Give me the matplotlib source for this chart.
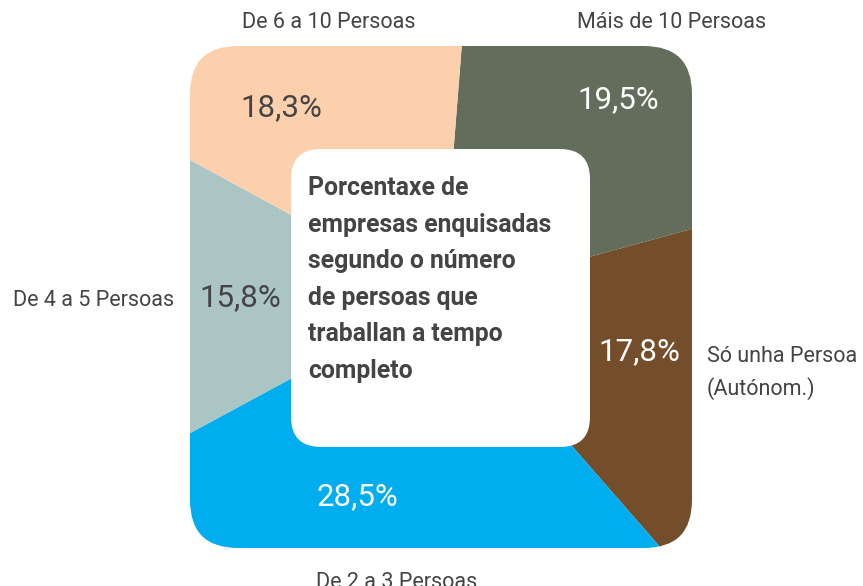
import matplotlib.pyplot as plt
from matplotlib.patches import FancyBboxPatch

plt.rcParams['font.family'] = ['Roboto', 'DejaVu Sans']

# slices, clockwise from the top
categories = ["Máis de 10 Persoas", "Só unha Persoa\n(Autónom.)", "De 2 a 3 Persoas",
              "De 4 a 5 Persoas", "De 6 a 10 Persoas"]
values = [19.5, 17.8, 28.5, 15.8, 18.3]
pct_labels = ["19,5%", "17,8%", "28,5%", "15,8%", "18,3%"]
colors = ["#626D5B", "#744E2B", "#00AEEF", "#ABC4C4", "#FDD0AD"]
pct_colors = ["white", "white", "white", "#444444", "#444444"]
title = "Porcentaxe de\nempresas enquisadas\nsegundo o número\nde persoas que\ntraballan a tempo\ncompleto"

W, H = 863, 586
fig = plt.figure(figsize=(W / 100, H / 100), dpi=100)
ax = fig.add_axes([0, 0, 1, 1])

cx, cy = 442, H - 297
wedges, _ = ax.pie(values, colors=colors, startangle=85.5, counterclock=False,
                   center=(cx, cy), radius=420, wedgeprops=dict(linewidth=0))

# rounded square that clips the pie
square = FancyBboxPatch((190, H - 548), 502, 502,
                        boxstyle="round,pad=0,rounding_size=48",
                        facecolor="none", edgecolor="none")
ax.add_patch(square)
for w in wedges:
    w.set_clip_on(True)
    w.set_clip_path(square)

# white box in the middle
box = FancyBboxPatch((291, H - 447), 299, 298,
                     boxstyle="round,pad=0,rounding_size=30",
                     facecolor="white", edgecolor="none", zorder=3)
ax.add_patch(box)
ax.text(308, H - 176, title, fontsize=17.8, fontweight="bold", color="#444444",
        va="top", ha="left", linespacing=1.66, zorder=4)

# percentage labels inside slices
pct_pos = [(618, 100), (639, 352), (357, 497), (240, 298), (281, 108)]
for (x, y), t, c in zip(pct_pos, pct_labels, pct_colors):
    ax.text(x, H - y, t, fontsize=22.5, color=c,
            ha="center", va="center", zorder=4)

# category labels outside
lab_style = dict(fontsize=15.5, color="#444444", zorder=4)
ax.text(672, H - 22, categories[0], ha="center", va="center", **lab_style)
ax.text(707, H - 373, categories[1], ha="left", va="center", linespacing=1.55, **lab_style)
ax.text(397, H - 582, categories[2], ha="center", va="center", **lab_style)
ax.text(174, H - 300, categories[3], ha="right", va="center", **lab_style)
ax.text(329, H - 23, categories[4], ha="center", va="center", **lab_style)

ax.set_xlim(0, W)
ax.set_ylim(0, H)
ax.set_aspect("equal")
ax.axis("off")

fig.savefig("out.png", dpi=100)
